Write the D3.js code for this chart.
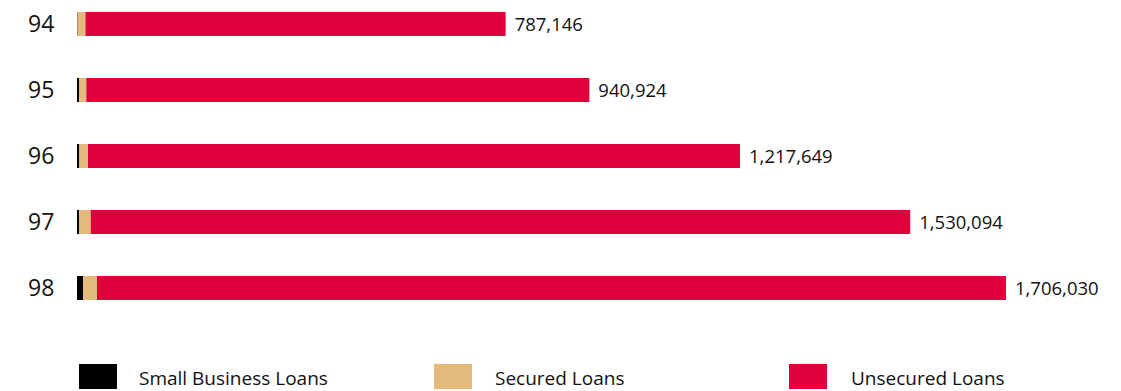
<!DOCTYPE html>
<html>
<head>
<meta charset="utf-8">
<script src="https://cdn.jsdelivr.net/npm/d3@7"></script>
<style>
  html, body { margin: 0; padding: 0; background: #fff; }
  svg { display: block; font-family: "Open Sans", "Noto Sans", sans-serif; }
</style>
</head>
<body>
<svg id="chart" width="1121" height="391"></svg>
<script>
// Loan balances by year, stacked
const years = ["94", "95", "96", "97", "98"];
const smallBusiness = [1000, 3700, 4200, 3700, 11000];
const securedLoans = [14500, 13400, 16000, 21500, 25700];
const unsecuredLoans = [771646, 923824, 1197449, 1504894, 1669330];

const seriesNames = ["Small Business Loans", "Secured Loans", "Unsecured Loans"];
const seriesColors = ["#000000", "#e3ba7c", "#e0003c"];

const rows = years.map((y, i) => ({
  year: y,
  "Small Business Loans": smallBusiness[i],
  "Secured Loans": securedLoans[i],
  "Unsecured Loans": unsecuredLoans[i]
}));
const totals = rows.map(r => seriesNames.reduce((s, k) => s + r[k], 0));

const svg = d3.select("#chart");

const x = d3.scaleLinear()
  .domain([0, d3.max(totals)])
  .range([77, 1006]);

const y = d3.scaleBand()
  .domain(years)
  .range([12, 300])
  .paddingInner(42 / 66)
  .paddingOuter(0);

const color = d3.scaleOrdinal().domain(seriesNames).range(seriesColors);

const stacked = d3.stack().keys(seriesNames)(rows);

svg.append("g")
  .selectAll("g")
  .data(stacked)
  .join("g")
  .attr("fill", d => color(d.key))
  .selectAll("rect")
  .data(d => d)
  .join("rect")
  .attr("x", d => x(d[0]))
  .attr("y", d => y(d.data.year))
  .attr("width", d => x(d[1]) - x(d[0]))
  .attr("height", y.bandwidth());

// Year labels on the left
svg.append("g")
  .selectAll("text")
  .data(years)
  .join("text")
  .attr("x", 28)
  .attr("y", d => y(d) + y.bandwidth() / 2)
  .attr("dy", "0.36em")
  .attr("font-size", 23)
  .attr("fill", "#111")
  .text(d => d);

// Totals at bar ends
const fmt = d3.format(",");
svg.append("g")
  .selectAll("text")
  .data(rows)
  .join("text")
  .attr("x", (d, i) => x(totals[i]) + 9)
  .attr("y", d => y(d.year) + y.bandwidth() / 2)
  .attr("dy", "0.36em")
  .attr("font-size", 18.5)
  .attr("fill", "#111")
  .text((d, i) => fmt(totals[i]));

// Legend
const legendX = [79, 434, 789];
const legend = svg.append("g")
  .selectAll("g")
  .data(seriesNames)
  .join("g")
  .attr("transform", (d, i) => `translate(${legendX[i]},364)`);

legend.append("rect")
  .attr("width", 38)
  .attr("height", 25)
  .attr("fill", d => color(d));

legend.append("text")
  .attr("x", (d, i) => [60, 61, 62][i])
  .attr("y", 21)
  .attr("font-size", 19)
  .attr("fill", "#111")
  .text(d => d);
</script>
</body>
</html>
